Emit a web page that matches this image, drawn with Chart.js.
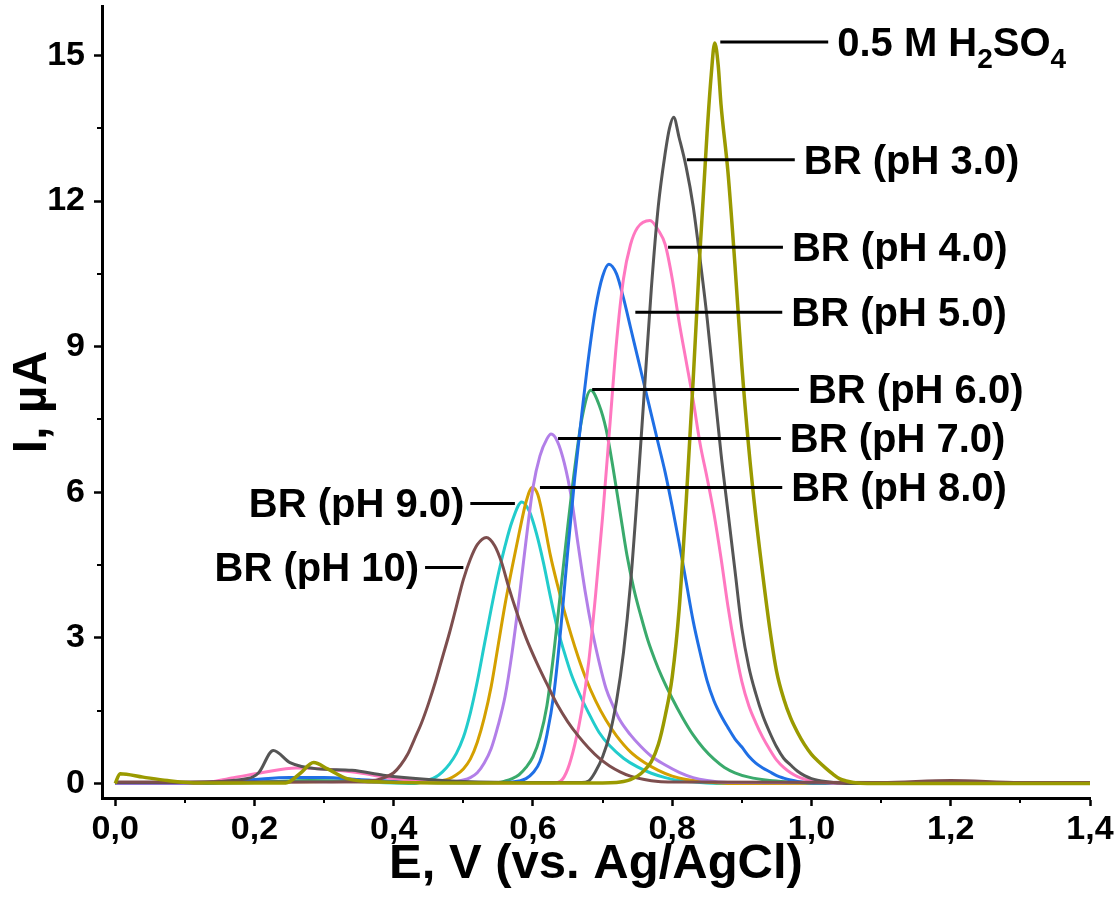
<!DOCTYPE html>
<html>
<head>
<meta charset="utf-8">
<script src="https://cdn.jsdelivr.net/npm/chart.js@4.4.0/dist/chart.umd.min.js"></script>
<style>
  body { margin: 0; background: #fff; }
  #wrap { width: 1118px; height: 908px; }
</style>
</head>
<body>
<div id="wrap"><canvas id="chart" width="1118" height="908"></canvas></div>
<script>
// potential E (V vs Ag/AgCl) and current I (µA)
const sulfE = [0, 0.007, 0.04, 0.075, 0.12, 0.245, 0.265, 0.285, 0.305, 0.333, 0.385, 0.5, 0.7, 0.72, 0.73, 0.74, 0.75, 0.76, 0.77, 0.78, 0.79, 0.80, 0.81, 0.82, 0.83, 0.84, 0.85, 0.856, 0.861, 0.866, 0.87, 0.88, 0.89, 0.90, 0.91, 0.92, 0.93, 0.94, 0.95, 0.96, 0.97, 0.98, 0.99, 1.00, 1.01, 1.02, 1.03, 1.04, 1.05, 1.06, 1.08, 1.2, 1.4];
const sulfI = [0, 0.2, 0.13, 0.06, 0.01, 0.01, 0.2, 0.43, 0.3, 0.1, 0.03, 0.01, 0.01, 0.02, 0.04, 0.08, 0.15, 0.27, 0.45, 0.8, 1.4, 2.2, 3.6, 5.8, 8.3, 11.0, 13.4, 14.6, 15.26, 14.8, 14.0, 12.6, 10.7, 8.6, 6.9, 5.5, 4.3, 3.2, 2.3, 1.75, 1.35, 1.05, 0.8, 0.6, 0.45, 0.32, 0.2, 0.1, 0.05, 0.02, 0, 0, 0];

const ph3E = [0, 0.1, 0.19, 0.206, 0.227, 0.251, 0.29, 0.34, 0.385, 0.45, 0.5, 0.6, 0.67, 0.68, 0.69, 0.70, 0.71, 0.72, 0.73, 0.74, 0.75, 0.76, 0.77, 0.78, 0.79, 0.796, 0.802, 0.81, 0.82, 0.83, 0.84, 0.85, 0.86, 0.87, 0.88, 0.89, 0.90, 0.91, 0.92, 0.93, 0.94, 0.95, 0.96, 0.97, 0.98, 0.99, 1.00, 1.02, 1.05, 1.4];
const ph3I = [0.02, 0.02, 0.1, 0.22, 0.68, 0.43, 0.3, 0.27, 0.17, 0.08, 0.04, 0.02, 0.02, 0.05, 0.25, 0.55, 1.0, 1.7, 2.7, 4.1, 6.0, 8.1, 10.2, 11.9, 13.0, 13.5, 13.73, 13.3, 12.7, 11.9, 10.8, 9.6, 8.2, 6.8, 5.6, 4.4, 3.2, 2.4, 1.85, 1.4, 1.05, 0.75, 0.52, 0.38, 0.25, 0.16, 0.1, 0.04, 0, 0];

const ph4E = [0, 0.12, 0.17, 0.21, 0.26, 0.3, 0.35, 0.4, 0.46, 0.55, 0.63, 0.64, 0.65, 0.66, 0.67, 0.68, 0.69, 0.70, 0.71, 0.72, 0.73, 0.74, 0.75, 0.768, 0.78, 0.79, 0.80, 0.81, 0.82, 0.83, 0.84, 0.85, 0.86, 0.87, 0.88, 0.89, 0.90, 0.91, 0.92, 0.93, 0.94, 0.95, 0.96, 0.97, 0.98, 0.99, 1.00, 1.02, 1.05, 1.4];
const ph4I = [0.01, 0.01, 0.12, 0.22, 0.32, 0.3, 0.22, 0.1, 0.04, 0.01, 0.01, 0.05, 0.3, 0.8, 1.5, 2.5, 3.9, 5.5, 7.3, 9.1, 10.4, 11.1, 11.45, 11.6, 11.4, 11.1, 10.4, 9.5, 8.7, 7.9, 7.0, 6.3, 5.55, 4.65, 3.65, 2.8, 2.1, 1.6, 1.25, 0.95, 0.7, 0.48, 0.33, 0.22, 0.14, 0.09, 0.05, 0.02, 0, 0];

const ph5E = [0, 0.12, 0.2, 0.25, 0.3, 0.35, 0.42, 0.5, 0.57, 0.58, 0.59, 0.60, 0.61, 0.62, 0.63, 0.64, 0.65, 0.66, 0.67, 0.68, 0.69, 0.70, 0.709, 0.72, 0.73, 0.74, 0.75, 0.76, 0.77, 0.78, 0.79, 0.80, 0.81, 0.82, 0.83, 0.84, 0.85, 0.86, 0.87, 0.88, 0.89, 0.90, 0.91, 0.92, 0.93, 0.94, 0.95, 0.96, 0.97, 0.98, 1.0, 1.4];
const ph5I = [0, 0, 0.08, 0.12, 0.12, 0.08, 0.03, 0.01, 0.03, 0.05, 0.1, 0.22, 0.45, 1.0, 1.85, 3.2, 4.8, 6.3, 7.6, 8.8, 9.8, 10.45, 10.7, 10.5, 10.0, 9.4, 8.8, 8.2, 7.6, 7.0, 6.4, 5.7, 4.95, 4.15, 3.35, 2.7, 2.12, 1.7, 1.4, 1.15, 0.92, 0.75, 0.56, 0.42, 0.32, 0.24, 0.16, 0.11, 0.07, 0.04, 0.01, 0];

const ph6E = [0, 0.2, 0.28, 0.36, 0.45, 0.55, 0.56, 0.57, 0.58, 0.59, 0.60, 0.61, 0.62, 0.63, 0.64, 0.65, 0.66, 0.67, 0.683, 0.695, 0.705, 0.715, 0.725, 0.735, 0.745, 0.755, 0.765, 0.775, 0.785, 0.80, 0.815, 0.83, 0.845, 0.86, 0.875, 0.89, 0.91, 0.94, 0.97, 1.0, 1.4];
const ph6I = [0, 0.02, 0.06, 0.04, 0.02, 0.02, 0.05, 0.1, 0.18, 0.33, 0.55, 0.95, 1.6, 2.7, 4.0, 5.3, 6.5, 7.5, 8.1, 7.8, 7.3, 6.5, 5.6, 4.7, 4.0, 3.45, 2.95, 2.55, 2.2, 1.75, 1.35, 1.0, 0.72, 0.5, 0.33, 0.22, 0.13, 0.06, 0.03, 0.01, 0];

const ph7E = [0, 0.2, 0.28, 0.36, 0.45, 0.48, 0.50, 0.51, 0.52, 0.53, 0.54, 0.55, 0.56, 0.57, 0.58, 0.59, 0.60, 0.61, 0.62, 0.626, 0.635, 0.645, 0.655, 0.665, 0.675, 0.685, 0.695, 0.705, 0.715, 0.725, 0.74, 0.755, 0.77, 0.79, 0.81, 0.83, 0.85, 0.88, 1.4];
const ph7I = [0, 0.02, 0.04, 0.03, 0.02, 0.02, 0.07, 0.12, 0.22, 0.42, 0.72, 1.2, 1.8, 2.7, 3.8, 5.0, 6.1, 6.75, 7.1, 7.2, 7.05, 6.6, 5.9, 4.9, 3.95, 3.15, 2.5, 1.95, 1.6, 1.3, 1.0, 0.76, 0.56, 0.38, 0.23, 0.12, 0.06, 0.02, 0];

const ph8E = [0, 0.2, 0.3, 0.4, 0.45, 0.47, 0.48, 0.49, 0.50, 0.51, 0.52, 0.53, 0.54, 0.55, 0.56, 0.57, 0.58, 0.59, 0.599, 0.607, 0.615, 0.625, 0.635, 0.645, 0.655, 0.665, 0.675, 0.69, 0.705, 0.72, 0.74, 0.76, 0.78, 0.80, 0.82, 0.85, 0.88, 1.4];
const ph8I = [0.01, 0.02, 0.04, 0.02, 0.02, 0.06, 0.1, 0.18, 0.3, 0.5, 0.85, 1.35, 2.0, 2.85, 3.7, 4.45, 5.15, 5.8, 6.1, 5.95, 5.45, 4.7, 4.1, 3.55, 3.05, 2.6, 2.2, 1.7, 1.3, 0.98, 0.65, 0.43, 0.27, 0.15, 0.08, 0.03, 0, 0];

const ph9E = [0, 0.2, 0.28, 0.36, 0.43, 0.44, 0.45, 0.46, 0.47, 0.48, 0.49, 0.50, 0.51, 0.52, 0.53, 0.54, 0.55, 0.56, 0.57, 0.584, 0.595, 0.605, 0.615, 0.625, 0.635, 0.645, 0.655, 0.665, 0.68, 0.695, 0.71, 0.73, 0.75, 0.77, 0.79, 0.81, 0.84, 0.87, 1.4];
const ph9I = [0, 0.03, 0.05, 0.03, 0, 0.03, 0.07, 0.13, 0.24, 0.4, 0.62, 0.95, 1.45, 2.1, 2.85, 3.6, 4.3, 4.9, 5.4, 5.8, 5.6, 5.15, 4.55, 3.85, 3.2, 2.7, 2.25, 1.9, 1.45, 1.05, 0.78, 0.52, 0.34, 0.21, 0.12, 0.06, 0.02, 0, 0];

const ph10E = [0, 0.2, 0.3, 0.37, 0.38, 0.39, 0.40, 0.41, 0.42, 0.43, 0.44, 0.45, 0.46, 0.47, 0.48, 0.49, 0.50, 0.51, 0.52, 0.533, 0.545, 0.555, 0.565, 0.575, 0.59, 0.605, 0.62, 0.635, 0.65, 0.665, 0.68, 0.695, 0.71, 0.725, 0.74, 0.76, 0.78, 0.80, 1.1, 1.2, 1.3, 1.4];
const ph10I = [0.03, 0.03, 0.03, 0.06, 0.09, 0.14, 0.22, 0.38, 0.6, 0.92, 1.25, 1.65, 2.1, 2.6, 3.1, 3.65, 4.2, 4.62, 4.92, 5.07, 4.9, 4.55, 4.05, 3.6, 3.0, 2.5, 2.05, 1.62, 1.27, 0.98, 0.73, 0.52, 0.36, 0.24, 0.15, 0.08, 0.04, 0.03, 0.02, 0.06, 0.02, 0.02];

const xTicks = [0, 0.2, 0.4, 0.6, 0.8, 1.0, 1.2, 1.4];
const xTickLabels = ['0,0', '0,2', '0,4', '0,6', '0,8', '1,0', '1,2', '1,4'];
const xMinor = [0.1, 0.3, 0.5, 0.7, 0.9, 1.1, 1.3];
const yTicks = [0, 3, 6, 9, 12, 15];
const yMinor = [1.5, 4.5, 7.5, 10.5, 13.5];

// callout labels: text, E where the leader touches the curve, E at the text end, current level
const noteText = ['0.5 M H_2SO_4', 'BR (pH 3.0)', 'BR (pH 4.0)', 'BR (pH 5.0)', 'BR (pH 6.0)', 'BR (pH 7.0)', 'BR (pH 8.0)', 'BR (pH 9.0)', 'BR (pH 10)'];
const noteFrom = [0.869, 0.821, 0.794, 0.747, 0.685, 0.636, 0.610, 0.574, 0.500];
const noteTo = [1.024, 0.976, 0.959, 0.958, 0.982, 0.956, 0.958, 0.510, 0.445];
const noteI = [15.28, 12.85, 11.05, 9.71, 8.12, 7.11, 6.10, 5.77, 4.45];

const FONT = "'Liberation Sans', Arial, sans-serif";

function series(E, I, color, width) {
    return {
        data: E.map((e, k) => ({ x: e, y: I[k] })),
        borderColor: color,
        borderWidth: width,
        pointRadius: 0,
        fill: false,
        cubicInterpolationMode: 'monotone'
    };
}

// first dataset ends up on top
let datasets = [
    series(sulfE, sulfI, '#9a9a00', 3.5),
    series(ph10E, ph10I, '#7d4e4e', 3),
    series(ph3E, ph3I, '#555555', 3),
    series(ph4E, ph4I, '#ff78c0', 3),
    series(ph5E, ph5I, '#1f6fe5', 3),
    series(ph6E, ph6I, '#3aaa6c', 3),
    series(ph7E, ph7I, '#b27fe8', 3),
    series(ph8E, ph8I, '#d4a000', 3),
    series(ph9E, ph9I, '#22cccc', 3)
];

function drawNote(ctx, text, x, y, rightAlign) {
    let parts = [];
    text.split(/(_\d)/).forEach(p => {
        if (p.startsWith('_')) parts.push([p.slice(1), true]);
        else if (p) parts.push([p, false]);
    });
    const big = 'bold 40px ' + FONT, small = 'bold 28px ' + FONT;
    let total = 0;
    parts.forEach(p => { ctx.font = p[1] ? small : big; total += ctx.measureText(p[0]).width; });
    let cx = rightAlign ? x - total : x;
    ctx.textAlign = 'left';
    ctx.textBaseline = 'alphabetic';
    parts.forEach(p => {
        ctx.font = p[1] ? small : big;
        ctx.fillText(p[0], cx, p[1] ? y + 26 : y + 14);
        cx += ctx.measureText(p[0]).width;
    });
}

const overlay = {
    id: 'overlay',
    afterDatasetsDraw(chart) {
        const ctx = chart.ctx, xs = chart.scales.x, ys = chart.scales.y;
        const area = chart.chartArea;
        ctx.save();
        ctx.strokeStyle = '#000';
        ctx.fillStyle = '#000';
        // minor ticks
        ctx.lineWidth = 2;
        ctx.beginPath();
        xMinor.forEach(v => {
            const px = Math.round(xs.getPixelForValue(v));
            ctx.moveTo(px, area.bottom);
            ctx.lineTo(px, area.bottom + 5);
        });
        yMinor.forEach(v => {
            const py = Math.round(ys.getPixelForValue(v));
            ctx.moveTo(area.left, py);
            ctx.lineTo(area.left - 5, py);
        });
        ctx.stroke();
        // callouts
        ctx.lineWidth = 3;
        noteText.forEach((t, k) => {
            const x1 = xs.getPixelForValue(noteFrom[k]);
            const x2 = xs.getPixelForValue(noteTo[k]);
            const py = ys.getPixelForValue(noteI[k]);
            ctx.beginPath();
            ctx.moveTo(x1, py);
            ctx.lineTo(x2, py);
            ctx.stroke();
            const left = x2 < x1;
            drawNote(ctx, t, left ? x2 - 6 : x2 + 9, py, left);
        });
        ctx.restore();
    }
};

new Chart(document.getElementById('chart'), {
    type: 'line',
    data: { datasets: datasets },
    options: {
        responsive: false,
        animation: false,
        layout: { padding: { top: 6, right: 28, left: 0, bottom: 0 } },
        plugins: { legend: { display: false }, tooltip: { enabled: false } },
        scales: {
            x: {
                type: 'linear',
                min: -0.019,
                max: 1.4,
                afterBuildTicks: s => { s.ticks = xTicks.map(v => ({ value: v })); },
                afterFit: s => { s.height = 110; s.paddingLeft = 0; s.paddingRight = 0; },
                border: { display: true, color: '#000', width: 3 },
                grid: { display: true, drawOnChartArea: false, drawTicks: true, tickLength: 8, tickWidth: 2.5, color: '#000' },
                ticks: {
                    color: '#000',
                    padding: 3,
                    maxRotation: 0,
                    autoSkip: false,
                    font: { family: FONT, size: 34, weight: 'bold' },
                    callback: v => xTickLabels[xTicks.indexOf(v)]
                },
                title: {
                    display: true,
                    text: 'E, V (vs. Ag/AgCl)',
                    color: '#000',
                    font: { family: FONT, size: 49, weight: 'bold' },
                    padding: { top: 0, bottom: 14 }
                }
            },
            y: {
                type: 'linear',
                min: -0.3,
                max: 16.02,
                afterBuildTicks: s => { s.ticks = yTicks.map(v => ({ value: v })); },
                afterFit: s => { s.width = 102; s.paddingTop = 0; s.paddingBottom = 0; },
                border: { display: true, color: '#000', width: 3 },
                grid: { display: true, drawOnChartArea: false, drawTicks: true, tickLength: 8, tickWidth: 2.5, color: '#000' },
                ticks: {
                    color: '#000',
                    padding: 9,
                    font: { family: FONT, size: 34, weight: 'bold' },
                    callback: v => String(v)
                },
                title: {
                    display: true,
                    text: 'I, µA',
                    color: '#000',
                    font: { family: FONT, size: 48, weight: 'bold' },
                    padding: { top: 4, bottom: 0 }
                }
            }
        }
    },
    plugins: [overlay]
});
</script>
</body>
</html>
